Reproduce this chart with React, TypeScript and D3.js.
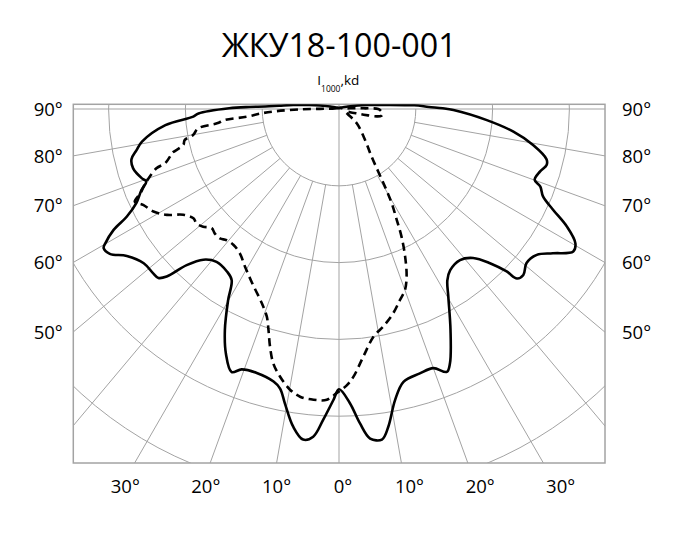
import React, { useEffect, useRef } from 'react';
import * as d3 from 'd3';

// polar curve of the luminaire, angle from nadir (deg, + to the right) and intensity (cd per 1000 lm)
const solidAngles = [
  -180, -150, -116.6, -105.5, -100.4, -97.6, -95, -93.1, -91.9, -91.3, -90.4, -88.2, -87, -84.7,
  -80.6, -78.5, -76.4, -73.9, -70.6, -69.4, -67.7, -65.1, -63.1, -61.8, -60.1, -59.4, -57.7, -55.3,
  -51.7, -48.5, -46.9, -45.8, -44.3, -42, -38.7, -34.6, -32.1, -30.1, -27.3, -24.8, -22.2, -20.5,
  -17.3, -13.5, -11.9, -10.4, -8.2, -6.2, -4.5, -2.9, -1.1, 0, 2.1, 3.8, 5.4, 7.4, 8.8, 10.9, 13.3,
  17, 20, 22.3, 23.6, 26.8, 30.2, 32.3, 34.6, 38.7, 42, 44.4, 45.9, 46.4, 48, 50.6, 53.6, 56, 58.7,
  60.4, 62.7, 64.8, 66.8, 68.9, 70.1, 72.7, 74.9, 76.4, 79.5, 82.6, 85.7, 89.5, 90.4, 91.3, 92.8,
  95, 97.6, 100.4, 105.5, 116.6, 150, 180,
];
const solidCd = [
  1.5, 2, 4.4, 12, 25, 39, 60, 78, 96, 117, 143, 183, 190, 227,
  260, 269, 278, 279, 272, 268, 278, 291, 310, 333, 351, 356, 353, 336,
  324, 323, 322, 313, 284, 264, 255, 257, 263, 288, 324, 351, 370, 362,
  360, 365, 372, 390, 418, 433, 428, 405, 379, 365, 383, 410, 431, 434, 419, 386, 365,
  360, 359, 370, 361, 322, 283, 264, 255, 252, 261, 281, 304, 320, 323, 316, 320, 336, 357,
  354, 334, 308, 289, 281, 271, 274, 280, 278, 257, 229, 193, 149, 135, 117, 98,
  62, 39, 25, 12, 4.4, 2, 1.5,
];

const dashedAngles = [
  -180, -110, -93, -90.5, -89.5, -88, -86.8, -85.2, -84.5, -83.3, -82.2, -79.9, -78.6, -77, -75.2,
  -74.2, -72.7, -72, -69, -67, -65.6, -63.9, -61.1, -58.4, -55.8, -53.1, -51.2, -49.1, -46.9, -44.9,
  -42.6, -40.6, -37.9, -34.5, -30.8, -26.6, -21.7, -19.2, -17.7, -16.2, -14.5, -12.4, -9.9, -7.7, -5,
  -2.4, -0.5, 1.6, 3.1, 5.6, 8.6, 11.5, 14.9, 17.7, 20, 22, 24.1, 26.1, 27.5, 29.2, 30.6, 32.1, 34.4,
  40, 51, 60, 68, 74, 77, 79, 81, 84.4, 87, 90, 91.6, 93.6, 100, 130, 180,
];
const dashedCd = [
  1, 3, 10, 25, 50, 81, 101, 121, 149, 160, 185, 193, 205, 208, 225,
  229, 237, 250, 270, 281, 292, 284, 276, 263, 245, 237, 238, 234, 227, 229,
  229, 225, 224, 228, 239, 253, 272, 286, 302, 322, 342, 357, 371, 378, 380,
  379, 370, 360, 349, 324, 300, 289, 275, 261, 251, 235, 211, 185, 163, 141, 118, 96, 75,
  53, 30, 13, 9, 15, 33, 50, 56, 57, 55, 51, 32, 14, 5, 2, 1,
];

const ringValues = [100, 200, 300, 400, 500];
const gridAngles = [-80, -70, -60, -50, -40, -30, -20, -10, 10, 20, 30, 40, 50, 60, 70, 80];
const sideTicks = [90, 80, 70, 60, 50];
const bottomTicks = [-30, -20, -10, 0, 10, 20, 30];
const title = 'ЖКУ18-100-001';

const App: React.FC = () => {
  const width = 697;
  const height = 542;
  const svgRef = useRef<SVGSVGElement>(null);

  useEffect(() => {
    if (!svgRef.current) return;
    const svg = d3.select(svgRef.current);
    svg.selectAll('*').remove();

    const cx = 339;
    const cy = 109;
    const left = 73.3;
    const right = 605;
    const top = 104.3;
    const bottom = 463;
    const font = "'Open Sans', 'Noto Sans', sans-serif";
    const gridColor = '#a3a3a3';

    const rScale = d3.scaleLinear().domain([0, 100]).range([0, 76.8]);
    const rad = (deg: number) => (deg * Math.PI) / 180;
    const pt = (deg: number, r: number): [number, number] => [
      cx + r * Math.sin(rad(deg)),
      cy + r * Math.cos(rad(deg)),
    ];

    svg.append('defs').append('clipPath').attr('id', 'frame')
      .append('rect')
      .attr('x', left).attr('y', top)
      .attr('width', right - left).attr('height', bottom - top);

    const grid = svg.append('g').attr('clip-path', 'url(#frame)')
      .attr('fill', 'none').attr('stroke', gridColor).attr('stroke-width', 1);

    // rings, the first one only below the 90° line
    ringValues.forEach((v, i) => {
      if (i === 0) {
        const p = d3.path();
        p.arc(cx, cy, rScale(v), 0, Math.PI);
        grid.append('path').attr('d', p.toString());
      } else {
        grid.append('circle').attr('cx', cx).attr('cy', cy).attr('r', rScale(v));
      }
    });

    gridAngles.forEach((a) => {
      const [x1, y1] = pt(a, rScale(ringValues[0]));
      const [x2, y2] = pt(a, 900);
      grid.append('line').attr('x1', x1).attr('y1', y1).attr('x2', x2).attr('y2', y2);
    });
    grid.append('line').attr('x1', cx).attr('y1', top).attr('x2', cx).attr('y2', bottom);
    grid.append('line').attr('x1', left).attr('y1', cy).attr('x2', right).attr('y2', cy);

    svg.append('rect')
      .attr('x', left).attr('y', top)
      .attr('width', right - left).attr('height', bottom - top)
      .attr('fill', 'none').attr('stroke', gridColor).attr('stroke-width', 1.5);

    const radial = d3.lineRadial<[number, number]>()
      .angle((d) => Math.PI - rad(d[0]))
      .radius((d) => rScale(d[1]))
      .curve(d3.curveCatmullRomClosed.alpha(0.5));

    const curves = svg.append('g').attr('clip-path', 'url(#frame)')
      .append('g')
      .attr('transform', `translate(${cx},${cy})`);

    curves.append('path')
      .datum(dashedAngles.map((a, i) => [a, dashedCd[i]] as [number, number]))
      .attr('d', radial)
      .attr('fill', 'none')
      .attr('stroke', '#000')
      .attr('stroke-width', 2.6)
      .attr('stroke-dasharray', '8,5');

    curves.append('path')
      .datum(solidAngles.map((a, i) => [a, solidCd[i]] as [number, number]))
      .attr('d', radial)
      .attr('fill', 'none')
      .attr('stroke', '#000')
      .attr('stroke-width', 2.6);

    // angle labels on the sides
    sideTicks.forEach((a) => {
      const y = cy + ((cx - left) * Math.cos(rad(a))) / Math.sin(rad(a));
      [[left - 10.5, 'end'], [right + 17, 'start']].forEach(([x, anchor]) => {
        svg.append('text')
          .attr('x', x as number)
          .attr('y', y)
          .attr('dy', '0.36em')
          .attr('text-anchor', anchor as string)
          .attr('font-family', font)
          .attr('font-size', 18.5)
          .attr('fill', '#000')
          .text(`${a}°`);
      });
    });

    // angle labels below
    const labelY = 486;
    bottomTicks.forEach((a) => {
      svg.append('text')
        .attr('x', cx + (labelY - cy) * Math.tan(rad(a)) + 4)
        .attr('y', 493.3)
        .attr('text-anchor', 'middle')
        .attr('font-family', font)
        .attr('font-size', 18.5)
        .attr('fill', '#000')
        .text(`${Math.abs(a)}°`);
    });

    svg.append('text')
      .attr('x', 339.2)
      .attr('y', 57.3)
      .attr('text-anchor', 'middle')
      .attr('font-family', font)
      .attr('font-size', 33)
      .attr('textLength', 235)
      .attr('lengthAdjust', 'spacingAndGlyphs')
      .attr('fill', '#000')
      .text(title);

    const unit = svg.append('text')
      .attr('x', 338.3)
      .attr('y', 85)
      .attr('text-anchor', 'middle')
      .attr('font-family', font)
      .attr('font-size', 13.5)
      .attr('fill', '#000');
    unit.append('tspan').text('I');
    unit.append('tspan').attr('dy', 6.5).attr('font-size', 8.5).text('1000');
    unit.append('tspan').attr('dy', -6.5).text(',kd');
  }, []);

  return (
    <svg
      ref={svgRef}
      width={width}
      height={height}
      style={{ position: 'absolute', left: 0, top: 0, background: '#fff' }}
    />
  );
};

export default App;
